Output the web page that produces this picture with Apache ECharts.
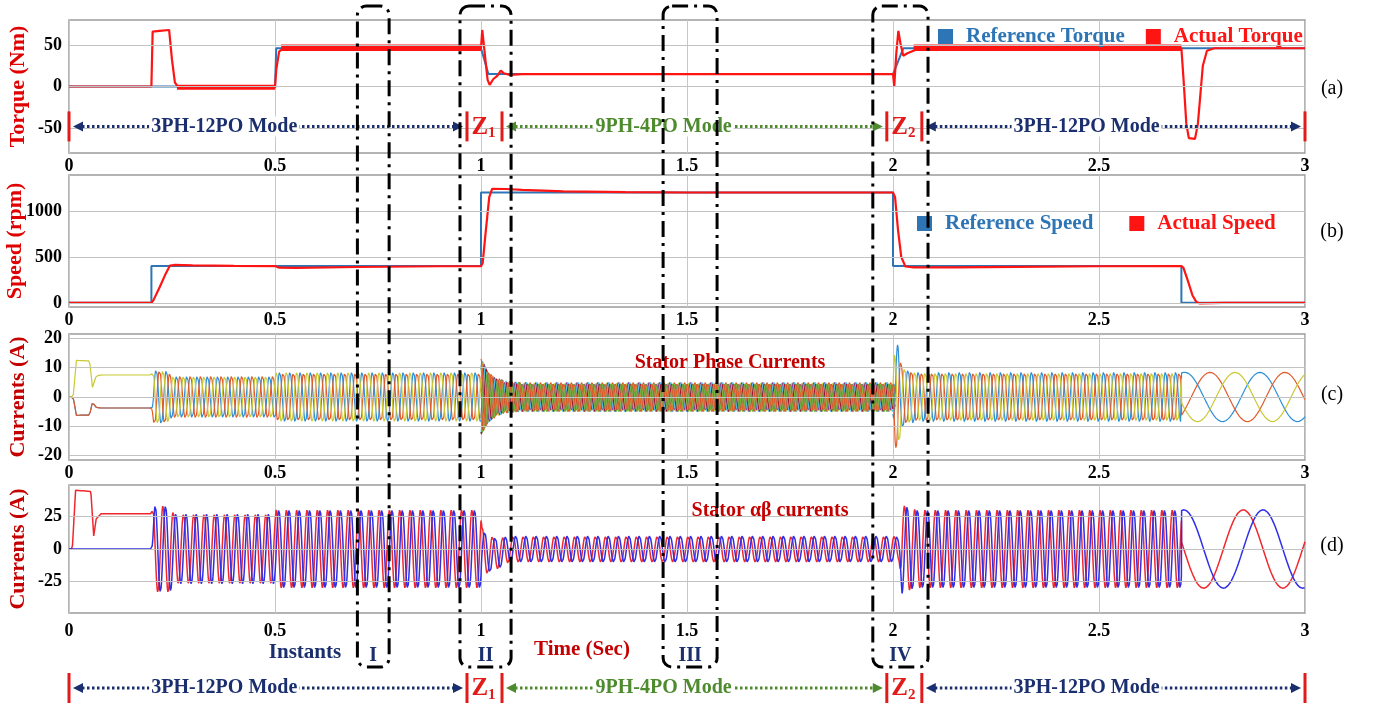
<!DOCTYPE html>
<html>
<head>
<meta charset="utf-8">
<title>Torque, speed and stator currents across mode transitions</title>
<script src="https://cdn.jsdelivr.net/npm/echarts@6/dist/echarts.min.js"></script>
<style>
  html, body { margin: 0; padding: 0; background: #fff; }
  #chart { width: 1373px; height: 710px; }
</style>
</head>
<body>
<div id="chart"></div>
<script>
// ---------- axis ticks ----------
const timeTicks = [0, 0.5, 1, 1.5, 2, 2.5, 3];
const torqueTicks = [-50, 0, 50];
const speedTicks = [0, 500, 1000];
const phaseTicks = [-20, -10, 0, 10, 20];
const abTicks = [-25, 0, 25];

// ---------- (a) torque, Nm ----------
const refTorqueT = [0, 0.5, 0.503, 1.0, 1.018, 2.0, 2.025, 3.0];
const refTorqueV = [0, 0, 46, 46, 15, 15, 46, 46];
const actTorqueT = [0, 0.2, 0.203, 0.22, 0.243, 0.25, 0.257, 0.265, 0.5, 0.503, 0.51, 0.52, 1.0, 1.003, 1.008, 1.016, 1.021, 1.03, 1.04, 1.048, 1.055, 1.07, 1.1, 2.0, 2.003, 2.008, 2.013, 2.018, 2.025, 2.035, 2.06, 2.1, 2.7, 2.705, 2.712, 2.718, 2.733, 2.74, 2.746, 2.752, 2.762, 2.78, 3.0];
const actTorqueV = [0, 0, 66, 67, 68, 32, 5, -1, -1, 20, 42, 46, 46, 68, 45, 8, 2, 9, 13, 19, 16, 14, 15, 15, 0, 40, 67, 52, 37, 40, 45, 46, 46, 10, -45, -62, -63, -45, -10, 25, 43, 46, 46];
// torque ripple band (thick trace) intervals
const rippleLowT = [0.262, 0.5];
const rippleLowV = [-1, -1];
const rippleHighT = [0.515, 1.0, 1.0, 2.05, 2.7];
const rippleHighV = [46.5, 46.5, '-', 46.5, 46.5];

// ---------- (b) speed, rpm ----------
const refSpeedT = [0, 0.2, 0.2, 1.0, 1.0, 2.0, 2.0, 2.7, 2.7, 3.0];
const refSpeedV = [0, 0, 400, 400, 1200, 1200, 400, 400, 0, 0];
const actSpeedT = [0, 0.2, 0.205, 0.22, 0.235, 0.245, 0.255, 0.3, 0.4, 0.5, 0.51, 0.55, 0.7, 0.9, 1.0, 1.004, 1.012, 1.02, 1.027, 1.06, 1.1, 1.2, 1.35, 1.5, 2.0, 2.005, 2.012, 2.02, 2.03, 2.05, 2.15, 2.3, 2.5, 2.7, 2.705, 2.715, 2.727, 2.737, 2.745, 2.8, 3.0];
const actSpeedV = [0, 0, 30, 170, 320, 405, 412, 408, 402, 400, 382, 380, 390, 398, 400, 430, 800, 1150, 1240, 1238, 1228, 1212, 1203, 1200, 1200, 1150, 800, 500, 395, 385, 385, 392, 398, 400, 380, 250, 80, 5, -5, 0, 0];

// ---------- electrical frequency of the stator currents ----------
const elecFreqT = [0, 0.2, 0.206, 3.0];
const elecFreqHz = [0, 0, 40, 40];
const slowStartT = 2.7;          // after this the currents rotate slowly
const phaseSlowHz = 5.5, phaseSlowPeakT = 2.83;
const abSlowHz = 5.2, abSlowPeakT = 2.85;

// ---------- (c) stator phase current amplitudes, A ----------
const threePhaseSpans = [[0, 1.0], [2.0, 3.0]];
const phAmpT = [0, 0.01, 0.018, 0.05, 0.057, 0.066, 0.078, 0.2, 0.205, 0.235, 0.25, 0.5, 0.503, 1.0, 2.0, 2.005, 2.012, 2.02, 2.03, 2.06, 2.7, 2.71, 3.0];
const phAmpV = [0, 0, 12.5, 12.3, 3.3, 7.2, 7.5, 7.5, 9.5, 9.3, 7.3, 7.3, 8.5, 8.5, 6, 17, 18, 11, 9.6, 8.6, 8.6, 8.4, 8.4];
const ninePhaseSpan = [1.0, 2.005];
const ph9AmpT = [1.0, 1.006, 1.02, 1.04, 1.06, 1.1, 2.0, 2.005];
const ph9AmpV = [13, 12, 8.5, 6.5, 5.5, 5.0, 5.0, 4];

// ---------- (d) stator alpha-beta currents, A ----------
const abDcT = [0, 0.008, 0.016, 0.053, 0.06, 0.066, 0.078, 0.2];
const abDcV = [0, 0, 45, 44, 10, 23, 27, 27];
const abAmpT = [0.2, 0.205, 0.245, 0.255, 0.5, 0.503, 1.0, 1.002, 1.012, 1.03, 1.05, 1.07, 2.0, 2.015, 2.022, 2.03, 2.045, 2.06, 2.7, 3.0];
const abAmpV = [27, 33, 33, 27, 27, 30, 30, 18, 16, 13, 11, 10, 10, 9, 34, 33, 31, 30, 30, 30];
const abOffsetT = [1.0, 1.01, 1.045, 1.07];
const abOffsetV = [0, -4, -3, 0];

// ---------- annotations ----------
const zoneBarT = [0, 0.966, 1.051, 1.985, 2.070, 3.0];
const modeSpanT = [[0, 0.966], [1.051, 1.985], [2.070, 3.0]];
const modeNames = ['3PH-12PO Mode', '9PH-4PO Mode', '3PH-12PO Mode'];
const modeTextPos = [0.39, 0.42, 0.43];
const zoneSpanT = [[0.966, 1.051], [1.985, 2.070]];
const zoneSub = ['1', '2'];
const instantSpanT = [[0.70, 0.777], [0.949, 1.073], [1.442, 1.573], [1.951, 2.085]];
const instantNames = ['I', 'II', 'III', 'IV'];
const yNames = ['Torque (Nm)', 'Speed (rpm)', 'Currents (A)', 'Currents (A)'];

// ---------- styling ----------
const serif = '"Liberation Serif", "Times New Roman", serif';
const NAVY = '#1b2f6e', GREEN = '#4e8a2e', ZRED = '#e31a1a';
const phaseColors = ['#2b8fd8', '#e05a2a', '#c9c934'];
const ninePhaseColors = ['#2b8fd8', '#c9c934', '#7e3f8e', '#4dbeee', '#a2142f', '#6fb43a', '#e05a2a', '#6fb43a', '#e05a2a'];
const yNameColors = ['#e00000', '#e00000', '#c40000', '#c40000'];
const yNameX = [18, 15, 18, 18];

// ---------- helpers ----------
function interp(ts, vs, t) {
  if (t <= ts[0]) return vs[0];
  for (let i = 1; i < ts.length; i++) {
    if (t <= ts[i]) {
      const t0 = ts[i - 1], t1 = ts[i];
      if (t1 === t0) return vs[i];
      return vs[i - 1] + (vs[i] - vs[i - 1]) * (t - t0) / (t1 - t0);
    }
  }
  return vs[vs.length - 1];
}
const pairs = (ts, vs) => ts.map((t, i) => [t, vs[i]]);
const inSpan = (t, s) => t >= s[0] - 1e-9 && t <= s[1] + 1e-9;

// electrical angle, integrated from the frequency profile
const dt = 0.0005, N = 6000;
const times = [], theta = [];
for (let i = 0; i <= N; i++) {
  const t = Math.round(i * dt * 1e6) / 1e6;
  times.push(t);
  if (i === 0) { theta.push(0); continue; }
  const f0 = interp(elecFreqT, elecFreqHz, times[i - 1]);
  const f1 = interp(elecFreqT, elecFreqHz, t);
  theta.push(theta[i - 1] + 2 * Math.PI * 0.5 * (f0 + f1) * dt);
}
const phaseAngle = i => times[i] > slowStartT ? 2 * Math.PI * phaseSlowHz * (times[i] - phaseSlowPeakT) : theta[i];
const abAngle = i => times[i] > slowStartT ? 2 * Math.PI * abSlowHz * (times[i] - abSlowPeakT) : theta[i];

// three-phase traces (panel c)
const shifts3 = [-2 * Math.PI / 3, 2 * Math.PI / 3, 0];
const phase3 = shifts3.map(sh => {
  const out = [];
  let on = false;
  times.forEach((t, i) => {
    const active = threePhaseSpans.some(s => inSpan(t, s));
    if (active) {
      out.push([t, interp(phAmpT, phAmpV, t) * Math.cos(phaseAngle(i) + sh)]);
      on = true;
    } else if (on) { out.push([t, '-']); on = false; }
  });
  return out;
});
// nine-phase traces (panel c)
const phase9 = ninePhaseColors.map((c, k) => {
  const out = [];
  times.forEach((t, i) => {
    if (inSpan(t, ninePhaseSpan)) {
      out.push([t, interp(ph9AmpT, ph9AmpV, t) * Math.cos(theta[i] - 2 * Math.PI * k / 9)]);
    }
  });
  return out;
});
// alpha-beta traces (panel d)
const alpha = [], beta = [];
times.forEach((t, i) => {
  if (t < 0.2) {
    alpha.push([t, interp(abDcT, abDcV, t)]);
    beta.push([t, 0]);
  } else {
    const a = interp(abAmpT, abAmpV, t);
    const off = (t >= 1.0 && t <= 1.07) ? interp(abOffsetT, abOffsetV, t) : 0;
    alpha.push([t, a * Math.cos(abAngle(i)) + off]);
    beta.push([t, a * Math.sin(abAngle(i)) + off]);
  }
});

// ---------- chart ----------
const grids = [
  { left: 69, top: 20, width: 1236, height: 133 },
  { left: 69, top: 175, width: 1236, height: 132 },
  { left: 69, top: 334, width: 1236, height: 126 },
  { left: 69, top: 485, width: 1236, height: 128 }
];
const yRanges = [[-80, 80], [-45, 1390], [-21.5, 21.5], [-49, 49]];
const yTicks = [torqueTicks, speedTicks, phaseTicks, abTicks];

const gridLineMark = ticks => ({
  silent: true, symbol: 'none', animation: false,
  label: { show: false },
  lineStyle: { color: '#c2c2c2', type: 'solid', width: 1.2 },
  emphasis: { disabled: true },
  data: ticks.map(v => ({ yAxis: v }))
});

function lineSeries(name, idx, data, color, width, extra) {
  return Object.assign({
    name, type: 'line', xAxisIndex: idx, yAxisIndex: idx, data,
    showSymbol: false, symbol: 'none', silent: true, animation: false,
    connectNulls: false, color,
    lineStyle: { color, width },
    emphasis: { disabled: true }
  }, extra || {});
}

const series = [
  lineSeries('Reference Torque', 0, pairs(refTorqueT, refTorqueV), '#2e75b6', 2, { markLine: gridLineMark(torqueTicks) }),
  lineSeries('Actual Torque', 0, pairs(rippleLowT, rippleLowV), '#ff1414', 5),
  lineSeries('Actual Torque', 0, pairs(rippleHighT, rippleHighV), '#ff1414', 6.5),
  lineSeries('Actual Torque', 0, pairs(actTorqueT, actTorqueV), '#ff1414', 2.2),
  lineSeries('Reference Speed', 1, pairs(refSpeedT, refSpeedV), '#2e75b6', 2, { markLine: gridLineMark(speedTicks) }),
  lineSeries('Actual Speed', 1, pairs(actSpeedT, actSpeedV), '#ff1414', 2.2),
];
phase9.forEach((d, k) => {
  series.push(lineSeries('Phase ' + (k + 1), 2, d, ninePhaseColors[k], 1.1,
    k === 0 ? { markLine: gridLineMark(phaseTicks) } : {}));
});
phase3.forEach((d, k) => series.push(lineSeries(['Phase a', 'Phase b', 'Phase c'][k], 2, d, phaseColors[k], 1.2)));
series.push(lineSeries('i\u03b1', 3, alpha, '#f0282d', 1.5, { markLine: gridLineMark(abTicks) }));
series.push(lineSeries('i\u03b2', 3, beta, '#2f2fe8', 1.5));

const option = {
  animation: false,
  backgroundColor: '#fff',
  textStyle: { fontFamily: serif },
  grid: grids.map(g => Object.assign({
    show: true, borderColor: '#9c9c9c', borderWidth: 1.5, backgroundColor: 'transparent',
    containLabel: false, outerBoundsMode: 'none'
  }, g)),
  xAxis: grids.map((g, i) => ({
    type: 'value', gridIndex: i, min: 0, max: 3, interval: 0.5,
    axisLine: { show: false }, axisTick: { show: false },
    axisLabel: {
      customValues: timeTicks,
      formatter: v => String(v),
      color: '#000', fontFamily: serif, fontWeight: 'bold', fontSize: 18,
      margin: i === 3 ? 9 : 4
    },
    splitLine: { show: true, lineStyle: { color: '#c8c8c8', width: 1 } }
  })),
  yAxis: grids.map((g, i) => ({
    type: 'value', gridIndex: i, min: yRanges[i][0], max: yRanges[i][1],
    axisLine: { show: false }, axisTick: { show: false }, splitLine: { show: false },
    axisLabel: {
      customValues: yTicks[i],
      formatter: v => String(v),
      color: '#000', fontFamily: serif, fontWeight: 'bold', fontSize: 18, margin: 7
    }
  })),
  legend: [
    {
      left: 933, top: 21, icon: 'rect', itemWidth: 15, itemHeight: 15, itemGap: 21,
      selectedMode: false,
      textStyle: { fontFamily: serif, fontWeight: 'bold', fontSize: 21, padding: [0, 0, 0, 8] },
      data: [
        { name: 'Reference Torque', textStyle: { color: '#2e75b6' } },
        { name: 'Actual Torque', textStyle: { color: '#ff1414' } }
      ]
    },
    {
      left: 912, top: 208, icon: 'rect', itemWidth: 15, itemHeight: 15, itemGap: 36,
      selectedMode: false,
      textStyle: { fontFamily: serif, fontWeight: 'bold', fontSize: 21, padding: [0, 0, 0, 8] },
      data: [
        { name: 'Reference Speed', textStyle: { color: '#2e75b6' } },
        { name: 'Actual Speed', textStyle: { color: '#ff1414' } }
      ]
    }
  ],
  series
};

const chart = echarts.init(document.getElementById('chart'), null, { renderer: 'canvas' });
chart.setOption(option);

// ---------- overlay: axis titles, operating modes, transition zones, instants ----------
const xPix = t => chart.convertToPixel({ xAxisIndex: 0 }, t);
const gfx = [];
const txt = (x, y, text, fill, font, extra) => ({
  type: 'text', x, y, z: 101, silent: true,
  style: Object.assign({ text, fill, font, align: 'center', verticalAlign: 'middle' }, extra || {})
});

// rotated axis titles, centred on each panel
grids.forEach((g, i) => {
  gfx.push(Object.assign(txt(yNameX[i], g.top + g.height / 2, yNames[i], yNameColors[i], 'bold 22px ' + serif),
    { rotation: Math.PI / 2 }));
});

function modeRow(y) {
  modeSpanT.forEach(([a, b], k) => {
    const col = k === 1 ? GREEN : NAVY;
    const x1 = xPix(a) + 4, x2 = xPix(b) - 4;
    gfx.push({ type: 'line', z: 100, silent: true, shape: { x1: x1 + 9, y1: y, x2: x2 - 9, y2: y },
      style: { stroke: col, lineWidth: 3, lineDash: [2.5, 2.5] } });
    gfx.push({ type: 'polygon', z: 100, silent: true, shape: { points: [[x1, y], [x1 + 10, y - 5], [x1 + 10, y + 5]] }, style: { fill: col } });
    gfx.push({ type: 'polygon', z: 100, silent: true, shape: { points: [[x2, y], [x2 - 10, y - 5], [x2 - 10, y + 5]] }, style: { fill: col } });
    const xc = xPix(a) + modeTextPos[k] * (xPix(b) - xPix(a));
    gfx.push(txt(xc, y, modeNames[k], col, 'bold 20px ' + serif, { backgroundColor: '#fff', padding: [0, 2] }));
  });
  zoneBarT.forEach(t => {
    gfx.push({ type: 'rect', z: 102, silent: true, shape: { x: xPix(t) - 1.5, y: y - 15, width: 3, height: 30 }, style: { fill: ZRED } });
  });
  zoneSpanT.forEach(([a, b], k) => {
    gfx.push({
      type: 'text', z: 102, silent: true, x: (xPix(a) + xPix(b)) / 2 - 1, y: y + 1,
      style: {
        text: '{z|Z}{s|' + zoneSub[k] + '}', align: 'center', verticalAlign: 'middle',
        rich: {
          z: { fill: ZRED, fontFamily: serif, fontWeight: 'bold', fontSize: 25, lineHeight: 28 },
          s: { fill: ZRED, fontFamily: serif, fontWeight: 'bold', fontSize: 15, lineHeight: 28, padding: [12, 0, 0, 0] }
        }
      }
    });
  });
}
modeRow(chart.convertToPixel({ yAxisIndex: 0 }, -48));
modeRow(688);

instantSpanT.forEach(([a, b], k) => {
  const x1 = xPix(a), x2 = xPix(b);
  gfx.push({ type: 'rect', z: 120, silent: true, shape: { x: x1, y: 6, width: x2 - x1, height: 661, r: 9 },
    style: { fill: null, stroke: '#000', lineWidth: 3, lineDash: [16, 6, 3, 6] } });
  gfx.push(txt((x1 + x2) / 2, 656, instantNames[k], NAVY, 'bold 20px ' + serif));
});

gfx.push(txt(305, 653, 'Instants', NAVY, 'bold 21px ' + serif));
gfx.push(txt(582, 650, 'Time (Sec)', '#c40000', 'bold 21px ' + serif));
gfx.push(txt(730, 363, 'Stator Phase Currents', '#c40000', 'bold 20px ' + serif));
gfx.push(txt(770, 511, 'Stator \u03b1\u03b2 currents', '#c40000', 'bold 20px ' + serif));
[['(a)', 89], ['(b)', 232], ['(c)', 395], ['(d)', 546]].forEach(([s, y]) => {
  gfx.push(txt(1332, y, s, '#000', '20px ' + serif));
});

chart.setOption({ graphic: gfx });
</script>
</body>
</html>
